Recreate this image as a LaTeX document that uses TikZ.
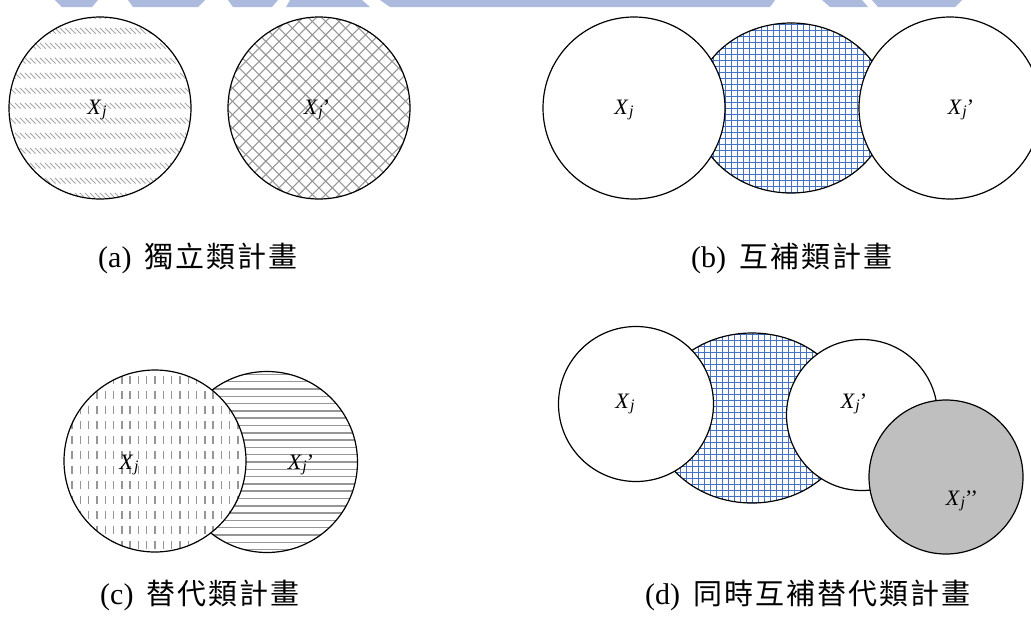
\documentclass[tikz,border=0pt]{standalone}
\usepackage{fontspec}
\setmainfont{Liberation Serif}
\newfontfamily\cjk{Noto Sans CJK TC}
\usetikzlibrary{shapes.geometric}
\definecolor{gridblue}{RGB}{68,114,196}
\definecolor{wmblue}{RGB}{172,186,222}
\definecolor{discgray}{RGB}{191,191,191}
\definecolor{hatchgray}{RGB}{150,150,150}
\newcommand{\Xj}[1]{\textit{X}\kern0.5pt\raisebox{-0.2ex}{\fontsize{16}{16}\selectfont\textit{j}}#1}
\newcommand{\capchar}[1]{\makebox[31pt]{\cjk\fontsize{29}{29}\selectfont #1}}
\tikzset{
  disc/.style={circle, draw=black, line width=1.2pt, inner sep=0pt, minimum size=#1},
  oval/.style 2 args={ellipse, draw=black, line width=1.2pt, inner sep=0pt, fill=white,
     minimum width=#1, minimum height=#2},
  varlabel/.style={font=\fontsize{22}{22}\selectfont, inner sep=0pt},
  captext/.style={anchor=west, inner sep=0pt, font=\fontsize{30}{30}\selectfont},
  diaghatch/.style={path picture={
    \begin{scope}[shift={(path picture bounding box.center)}]
      \foreach \k in {-46,...,46}
        \draw[hatchgray!85, line width=0.9pt, dash pattern=on 8pt off 13.2pt]
          (\k*5-110,-110) -- ++(220,220);
    \end{scope}}},
  crosshatch/.style={path picture={
    \begin{scope}[shift={(path picture bounding box.center)}]
      \foreach \k in {-18,...,18} {
        \draw[hatchgray, line width=1.1pt] (\k*13.3-110,-110) -- ++(220,220);
        \draw[hatchgray, line width=1.1pt] (\k*13.3+110,-110) -- ++(-220,220);}
    \end{scope}}},
  bluegrid/.style={path picture={
    \begin{scope}[shift={(path picture bounding box.center)}]
      \foreach \k in {-19,...,19} {
        \draw[gridblue, line width=1.3pt] (\k*6+0.5,-110) -- (\k*6+0.5,110);
        \draw[gridblue, line width=1.3pt] (-110,\k*6+0.5) -- (110,\k*6+0.5);}
    \end{scope}}},
  hlines/.style={path picture={
    \begin{scope}[shift={(path picture bounding box.center)}]
      \foreach \k in {-13,...,13}
        \draw[hatchgray, line width=1.5pt] (-100,\k*7.3) -- (100,\k*7.3);
    \end{scope}}},
  vdashes/.style={path picture={
    \begin{scope}[shift={(path picture bounding box.center)}]
      \foreach \k in {-12,...,12}
        \draw[hatchgray, line width=1.4pt, dash pattern=on 8pt off 7pt]
          (\k*8.3,-100) -- (\k*8.3,100);
    \end{scope}}},
}
\begin{document}
\begin{tikzpicture}[x=1pt, y=-1pt]
\path[use as bounding box] (0,0) rectangle (1031,622);
\clip (0,0) rectangle (1031,622);
% watermark fragment
\fill[wmblue] (55,0) -- (98,0) -- (92,7) -- (62,7) -- cycle;
\fill[wmblue] (128,0) -- (205,0) -- (198,7) -- (133,7) -- cycle;
\fill[wmblue] (228,0) -- (278,0) -- (272,7) -- (233,7) -- cycle;
\fill[wmblue] (290,0) -- (362,0) -- (370,7) -- (286,7) -- cycle;
\fill[wmblue] (380,0) -- (775,0) -- (770,7) -- (390,7) -- cycle;
\fill[wmblue] (822,0) -- (862,0) -- (868,7) -- (830,7) -- cycle;
\fill[wmblue] (872,0) -- (962,0) -- (955,7) -- (878,7) -- cycle;

% (a)
\node[disc=182pt, diaghatch] (a1) at (100,108) {};
\node[disc=182pt, crosshatch] (a2) at (319,108) {};
\node[varlabel] (la1) at (97,110) {\Xj{}};
\node[varlabel] (la2) at (317,110) {\Xj{’}};
\node[captext] (capa) at (98,258) {(a)\hspace{12pt}\capchar{獨}\capchar{立}\capchar{類}\capchar{計}\capchar{畫}};

% (b)
\node[oval={194pt}{170pt}, bluegrid] (b0) at (791,108) {};
\node[disc=182pt, fill=white] (b1) at (634,108) {};
\node[disc=182pt, fill=white] (b2) at (950,108) {};
\node[varlabel] (lb1) at (624,110) {\Xj{}};
\node[varlabel] (lb2) at (961,110) {\Xj{’}};
\node[captext] (capb) at (691,258) {(b)\hspace{12pt}\capchar{互}\capchar{補}\capchar{類}\capchar{計}\capchar{畫}};

% (c)
\node[disc=181pt, hlines] (c2) at (267,462) {};
\node[disc=182pt, fill=white, vdashes] (c1) at (155,461) {};
\node[varlabel] (lc1) at (129,465) {\Xj{}};
\node[varlabel] (lc2) at (301,465) {\Xj{’}};
\node[captext] (capc) at (100,595) {(c)\hspace{12pt}\capchar{替}\capchar{代}\capchar{類}\capchar{計}\capchar{畫}};

% (d)
\node[oval={198pt}{170pt}, bluegrid] (d0) at (752,418) {};
\node[disc=155pt, fill=white] (d1) at (636,404) {};
\node[disc=151pt, fill=white] (d2) at (862,415) {};
\node[disc=154pt, fill=discgray] (d3) at (946,477) {};
\node[varlabel] (ld1) at (625,404) {\Xj{}};
\node[varlabel] (ld2) at (854,404) {\Xj{’}};
\node[varlabel] (ld3) at (962,501) {\Xj{’’}};
\node[captext] (capd) at (645,595) {(d)\hspace{12pt}\capchar{同}\capchar{時}\capchar{互}\capchar{補}\capchar{替}\capchar{代}\capchar{類}\capchar{計}\capchar{畫}};
\end{tikzpicture}
\end{document}
